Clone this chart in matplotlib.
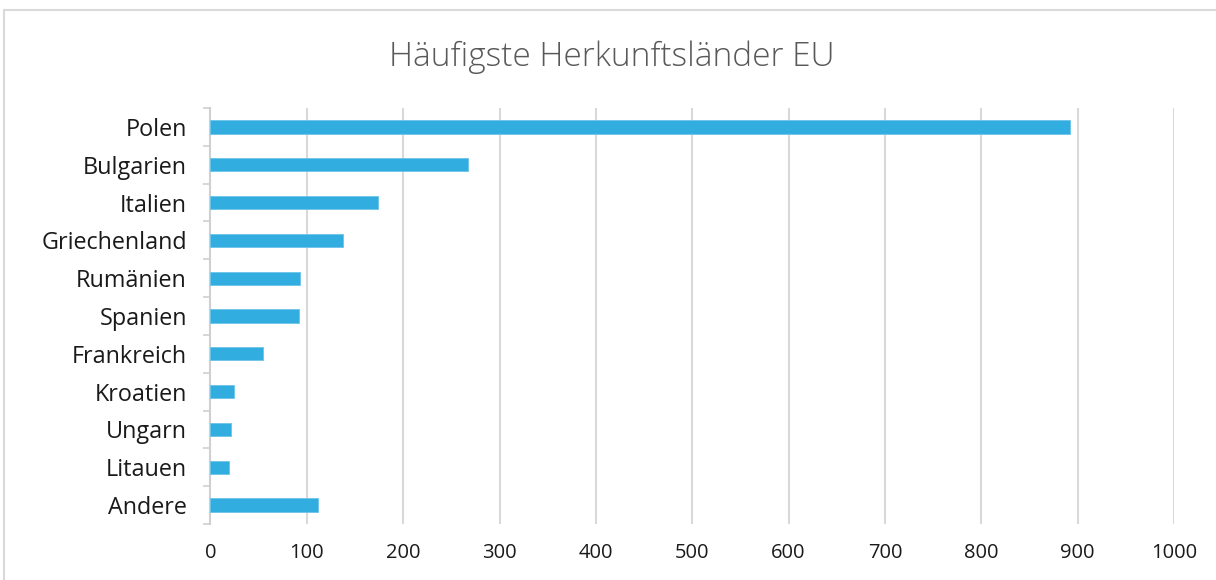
import matplotlib.pyplot as plt
from matplotlib.patches import Rectangle

countries = ['Polen', 'Bulgarien', 'Italien', 'Griechenland', 'Rumänien', 'Spanien',
             'Frankreich', 'Kroatien', 'Ungarn', 'Litauen', 'Andere']
counts = [892, 267, 174, 138, 93, 92, 55, 24, 21, 19, 112]
xticks = [0, 100, 200, 300, 400, 500, 600, 700, 800, 900, 1000]

plt.rcParams['font.family'] = ['Open Sans', 'DejaVu Sans']

fig = plt.figure(figsize=(12.16, 5.8), dpi=100)
ax = fig.add_axes([0.1731, 0.0966, 0.7924, 0.7172])

pos = list(range(len(countries)))
ax.barh(pos, counts, height=0.35, color='#31ade0', edgecolor='#6cc4ea', linewidth=0.6, zorder=3)

ax.set_ylim(len(countries) - 0.5, -0.5)
ax.set_xlim(0, 1000)
ax.set_yticks(pos)
ax.set_yticklabels(countries, fontsize=16.8, color='#1a1a1a')
ax.set_yticks([p - 0.5 for p in pos] + [len(countries) - 0.5], minor=True)
ax.tick_params(axis='y', which='major', length=0, pad=17)
ax.tick_params(axis='y', which='minor', length=5, width=1.2, color='#d0d0d0')

ax.set_xticks(xticks)
ax.set_xticklabels([str(t) for t in xticks], fontsize=14.5, color='#1a1a1a')
ax.tick_params(axis='x', length=0, pad=14)
ax.grid(axis='x', color='#d9d9d9', linewidth=1.5, zorder=0)

for s in ['top', 'right', 'bottom']:
    ax.spines[s].set_visible(False)
ax.spines['left'].set_color('#d0d0d0')
ax.spines['left'].set_linewidth(1.5)

fig.text(0.503, 1 - 57 / 580, 'Häufigste Herkunftsländer EU', ha='center', va='center',
         fontsize=24, fontweight='light', color='#595959')

fig.patches.append(Rectangle((4 / 1216, -0.01), 1.1, 1 - 10 / 580 + 0.01, transform=fig.transFigure,
                             fill=False, edgecolor='#d9d9d9', linewidth=1.5))

fig.savefig('out.png', dpi=100)
